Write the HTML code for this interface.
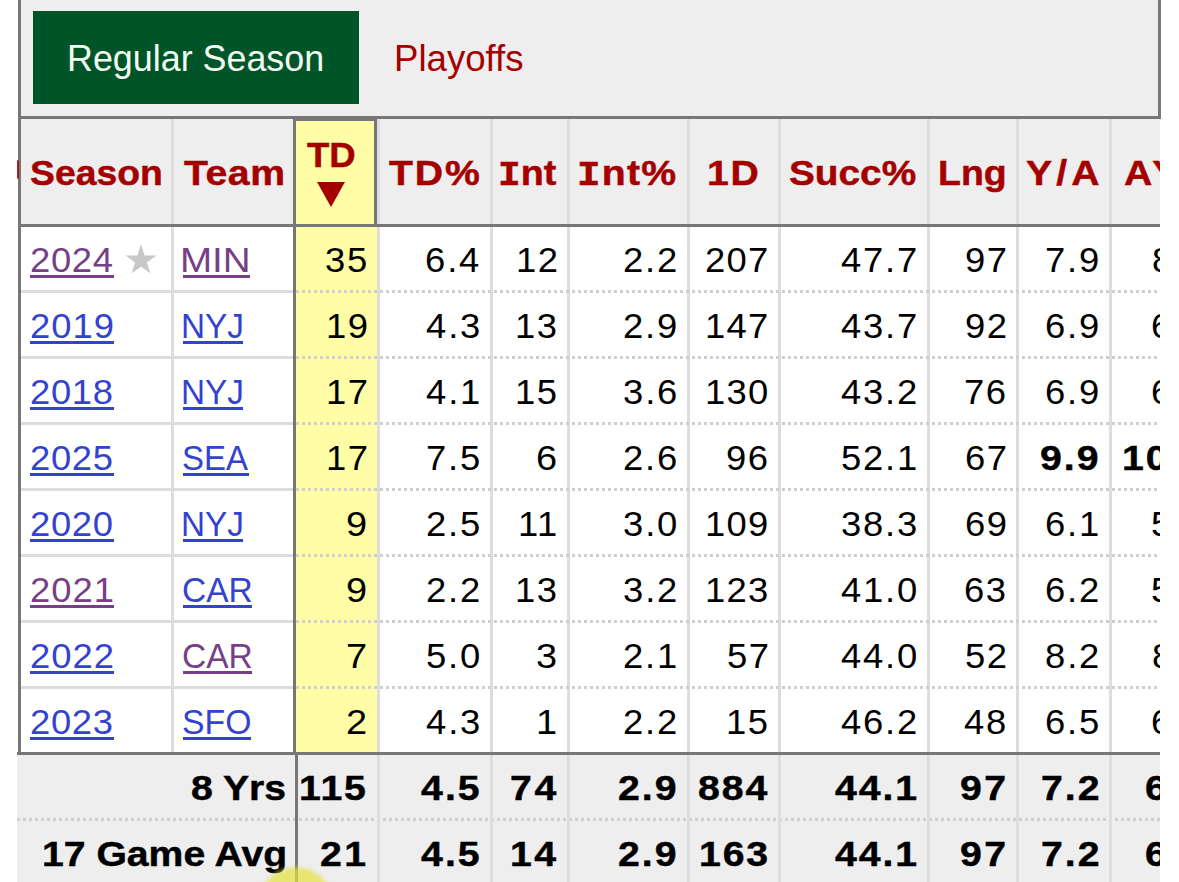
<!DOCTYPE html>
<html><head><meta charset="utf-8"><style>
html,body{margin:0;padding:0;background:#fff;}
body{width:1179px;height:882px;overflow:hidden;position:relative;font-family:"Liberation Sans",sans-serif;}
.a{position:absolute;}
.t{position:absolute;white-space:nowrap;line-height:1;transform-origin:0 0;}
.dot{position:absolute;height:3px;background:repeating-linear-gradient(90deg,#cfcfcf 0 3px,transparent 3px 6px);}
</style></head><body>

<div class="a" style="left:18px;top:-20px;width:1137px;height:136px;background:#edeeed;border:3px solid #777777;border-top:0;"></div>
<div class="a" style="left:33px;top:11px;width:326px;height:93px;background:#005528;"></div>
<div class="a" style="left:0;top:0;width:1160px;height:882px;overflow:hidden;">
<div class="a" style="left:18px;top:119px;width:1300px;height:105px;background:#eeeeee;"></div>
<div class="a" style="left:18px;top:224px;width:1300px;height:3px;background:#777777;"></div>
<div class="a" style="left:17px;top:755px;width:1300px;height:200px;background:#eeeeee;"></div>
<div class="a" style="left:17px;top:752px;width:1300px;height:3px;background:#777777;"></div>
<div class="a" style="left:296px;top:227px;width:81px;height:525px;background:#fffda6;"></div>
<div class="a" style="left:293px;top:119px;width:78px;height:103px;background:#fffda6;border:3px solid #777777;border-bottom:0;border-top-width:2px;"></div>
<div class="a" style="left:18px;top:119px;width:3px;height:633px;background:#777777;"></div>
<div class="a" style="left:171px;top:119px;width:3px;height:105px;background:#dddddd;"></div>
<div class="a" style="left:171px;top:227px;width:3px;height:525px;background:#dddddd;"></div>
<div class="a" style="left:293px;top:119px;width:3px;height:633px;background:#777777;"></div>
<div class="a" style="left:377px;top:119px;width:3px;height:105px;background:#dddddd;"></div>
<div class="a" style="left:377px;top:227px;width:3px;height:525px;background:#dddddd;"></div>
<div class="a" style="left:490px;top:119px;width:3px;height:105px;background:#dddddd;"></div>
<div class="a" style="left:490px;top:227px;width:3px;height:525px;background:#dddddd;"></div>
<div class="a" style="left:567px;top:119px;width:3px;height:105px;background:#dddddd;"></div>
<div class="a" style="left:567px;top:227px;width:3px;height:525px;background:#dddddd;"></div>
<div class="a" style="left:687px;top:119px;width:3px;height:105px;background:#dddddd;"></div>
<div class="a" style="left:687px;top:227px;width:3px;height:525px;background:#dddddd;"></div>
<div class="a" style="left:778px;top:119px;width:3px;height:105px;background:#dddddd;"></div>
<div class="a" style="left:778px;top:227px;width:3px;height:525px;background:#dddddd;"></div>
<div class="a" style="left:927px;top:119px;width:3px;height:105px;background:#dddddd;"></div>
<div class="a" style="left:927px;top:227px;width:3px;height:525px;background:#dddddd;"></div>
<div class="a" style="left:1016px;top:119px;width:3px;height:105px;background:#dddddd;"></div>
<div class="a" style="left:1016px;top:227px;width:3px;height:525px;background:#dddddd;"></div>
<div class="a" style="left:1109px;top:119px;width:3px;height:105px;background:#dddddd;"></div>
<div class="a" style="left:1109px;top:227px;width:3px;height:525px;background:#dddddd;"></div>
<div class="a" style="left:1217px;top:119px;width:3px;height:105px;background:#dddddd;"></div>
<div class="a" style="left:1217px;top:227px;width:3px;height:525px;background:#dddddd;"></div>
<div class="a" style="left:374px;top:119px;width:3px;height:105px;background:#777777;"></div>
<div class="a" style="left:21px;top:290px;width:272px;height:3px;background:#dddddd;"></div>
<div class="dot" style="left:296px;top:290px;width:1000px;"></div>
<div class="a" style="left:21px;top:356px;width:272px;height:3px;background:#dddddd;"></div>
<div class="dot" style="left:296px;top:356px;width:1000px;"></div>
<div class="a" style="left:21px;top:422px;width:272px;height:3px;background:#dddddd;"></div>
<div class="dot" style="left:296px;top:422px;width:1000px;"></div>
<div class="a" style="left:21px;top:488px;width:272px;height:3px;background:#dddddd;"></div>
<div class="dot" style="left:296px;top:488px;width:1000px;"></div>
<div class="a" style="left:21px;top:554px;width:272px;height:3px;background:#dddddd;"></div>
<div class="dot" style="left:296px;top:554px;width:1000px;"></div>
<div class="a" style="left:21px;top:620px;width:272px;height:3px;background:#dddddd;"></div>
<div class="dot" style="left:296px;top:620px;width:1000px;"></div>
<div class="a" style="left:21px;top:686px;width:272px;height:3px;background:#dddddd;"></div>
<div class="dot" style="left:296px;top:686px;width:1000px;"></div>
<div class="dot" style="left:17px;top:818px;width:1300px;"></div>
<div class="a" style="left:295px;top:755px;width:3px;height:200px;background:#777777;"></div>
<div class="a" style="left:377px;top:755px;width:3px;height:200px;background:#dddddd;"></div>
<div class="a" style="left:490px;top:755px;width:3px;height:200px;background:#dddddd;"></div>
<div class="a" style="left:567px;top:755px;width:3px;height:200px;background:#dddddd;"></div>
<div class="a" style="left:687px;top:755px;width:3px;height:200px;background:#dddddd;"></div>
<div class="a" style="left:778px;top:755px;width:3px;height:200px;background:#dddddd;"></div>
<div class="a" style="left:927px;top:755px;width:3px;height:200px;background:#dddddd;"></div>
<div class="a" style="left:1016px;top:755px;width:3px;height:200px;background:#dddddd;"></div>
<div class="a" style="left:1109px;top:755px;width:3px;height:200px;background:#dddddd;"></div>
<div class="a" style="left:1217px;top:755px;width:3px;height:200px;background:#dddddd;"></div>
<div class="a" style="left:317px;top:182px;width:0;height:0;border-left:14px solid transparent;border-right:14px solid transparent;border-top:25px solid #a50000;"></div>
<svg class="a" style="left:0;top:0" width="200" height="300"><polygon points="141.00,244.30 144.64,255.49 156.41,255.49 146.89,262.41 150.52,273.61 141.00,266.69 131.48,273.61 135.11,262.41 125.59,255.49 137.36,255.49" fill="#c8c8c9"/></svg>
<div class="a" style="left:30.0px;top:275px;width:84.0px;height:3px;background:#763f86;"></div>
<div class="a" style="left:183.0px;top:275px;width:67.0px;height:3px;background:#763f86;"></div>
<div class="a" style="left:30.0px;top:341px;width:84.0px;height:3px;background:#3443cf;"></div>
<div class="a" style="left:183.0px;top:341px;width:60.1px;height:3px;background:#3443cf;"></div>
<div class="a" style="left:30.0px;top:407px;width:84.0px;height:3px;background:#3443cf;"></div>
<div class="a" style="left:183.0px;top:407px;width:60.1px;height:3px;background:#3443cf;"></div>
<div class="a" style="left:30.0px;top:473px;width:84.0px;height:3px;background:#3443cf;"></div>
<div class="a" style="left:183.0px;top:473px;width:66.0px;height:3px;background:#3443cf;"></div>
<div class="a" style="left:30.0px;top:539px;width:84.0px;height:3px;background:#3443cf;"></div>
<div class="a" style="left:183.0px;top:539px;width:60.1px;height:3px;background:#3443cf;"></div>
<div class="a" style="left:30.0px;top:605px;width:84.0px;height:3px;background:#763f86;"></div>
<div class="a" style="left:183.0px;top:605px;width:69.0px;height:3px;background:#3443cf;"></div>
<div class="a" style="left:30.0px;top:671px;width:84.0px;height:3px;background:#3443cf;"></div>
<div class="a" style="left:183.0px;top:671px;width:69.0px;height:3px;background:#763f86;"></div>
<div class="a" style="left:30.0px;top:737px;width:84.0px;height:3px;background:#3443cf;"></div>
<div class="a" style="left:183.0px;top:737px;width:67.6px;height:3px;background:#3443cf;"></div>
<div class="t" style="left:66.51px;top:41.00px;font-size:36px;font-weight:400;color:#f2fbf2;transform:scaleX(0.9960);letter-spacing:0.00px;">Regular Season</div>
<div class="t" style="left:394.45px;top:41.00px;font-size:36px;font-weight:400;color:#a50000;transform:scaleX(1.0163);letter-spacing:0.00px;">Playoffs</div>
<div class="t" style="left:29.93px;top:155.00px;font-size:35px;font-weight:700;color:#a50000;transform:scaleX(1.0661);letter-spacing:0.00px;-webkit-text-stroke:0.45px #a50000;">Season</div>
<div class="t" style="left:183.50px;top:155.00px;font-size:35px;font-weight:700;color:#a50000;transform:scaleX(1.1200);letter-spacing:0.46px;-webkit-text-stroke:0.45px #a50000;">Team</div>
<div class="t" style="left:307.00px;top:136.50px;font-size:35px;font-weight:700;color:#a50000;transform:scaleX(1.0444);letter-spacing:0.00px;-webkit-text-stroke:0.45px #a50000;">TD</div>
<div class="t" style="left:389.00px;top:155.00px;font-size:35px;font-weight:700;color:#a50000;transform:scaleX(1.1200);letter-spacing:1.68px;-webkit-text-stroke:0.45px #a50000;">TD%</div>
<div class="t" style="left:498.26px;top:155.00px;font-size:35px;font-weight:700;color:#a50000;transform:scaleX(1.0784);letter-spacing:0.00px;-webkit-text-stroke:0.45px #a50000;"><span style='font-family:Liberation Mono'>I</span>nt</div>
<div class="t" style="left:576.89px;top:155.00px;font-size:35px;font-weight:700;color:#a50000;transform:scaleX(1.1200);letter-spacing:1.12px;-webkit-text-stroke:0.45px #a50000;"><span style='font-family:Liberation Mono'>I</span>nt%</div>
<div class="t" style="left:707.01px;top:155.00px;font-size:35px;font-weight:700;color:#a50000;transform:scaleX(1.1200);letter-spacing:1.41px;-webkit-text-stroke:0.45px #a50000;">1D</div>
<div class="t" style="left:789.29px;top:155.00px;font-size:35px;font-weight:700;color:#a50000;transform:scaleX(1.1080);letter-spacing:0.00px;-webkit-text-stroke:0.45px #a50000;">Succ%</div>
<div class="t" style="left:937.71px;top:155.00px;font-size:35px;font-weight:700;color:#a50000;transform:scaleX(1.0717);letter-spacing:0.00px;-webkit-text-stroke:0.45px #a50000;">Lng</div>
<div class="t" style="left:1026.38px;top:155.00px;font-size:35px;font-weight:700;color:#a50000;transform:scaleX(1.1200);letter-spacing:3.70px;-webkit-text-stroke:0.45px #a50000;">Y/A</div>
<div class="t" style="left:1123.88px;top:155.00px;font-size:35px;font-weight:700;color:#a50000;transform:scaleX(1.1200);letter-spacing:3.06px;-webkit-text-stroke:0.45px #a50000;">AY/A</div>
<div class="t" style="left:29.92px;top:242.00px;font-size:35px;font-weight:400;color:#763f86;transform:scaleX(1.0400);letter-spacing:0.64px;">2024</div>
<div class="t" style="left:180.19px;top:242.00px;font-size:35px;font-weight:400;color:#763f86;transform:scaleX(1.1017);letter-spacing:0.00px;">MIN</div>
<div class="t" style="left:324.84px;top:242.00px;font-size:35px;font-weight:400;color:#000;transform:scaleX(1.0400);letter-spacing:1.58px;">35</div>
<div class="t" style="left:425.31px;top:242.00px;font-size:35px;font-weight:400;color:#000;transform:scaleX(1.0400);letter-spacing:1.81px;">6.4</div>
<div class="t" style="left:516.01px;top:242.00px;font-size:35px;font-weight:400;color:#000;transform:scaleX(1.0400);letter-spacing:1.45px;">12</div>
<div class="t" style="left:623.43px;top:242.00px;font-size:35px;font-weight:400;color:#000;transform:scaleX(1.0400);letter-spacing:1.77px;">2.2</div>
<div class="t" style="left:705.28px;top:242.00px;font-size:35px;font-weight:400;color:#000;transform:scaleX(1.0400);letter-spacing:1.17px;">207</div>
<div class="t" style="left:840.91px;top:242.00px;font-size:35px;font-weight:400;color:#000;transform:scaleX(1.0400);letter-spacing:1.73px;">47.7</div>
<div class="t" style="left:964.97px;top:242.00px;font-size:35px;font-weight:400;color:#000;transform:scaleX(1.0400);letter-spacing:1.49px;">97</div>
<div class="t" style="left:1045.43px;top:242.00px;font-size:35px;font-weight:400;color:#000;transform:scaleX(1.0400);letter-spacing:1.77px;">7.9</div>
<div class="t" style="left:1151.96px;top:242.00px;font-size:35px;font-weight:400;color:#000;transform:scaleX(1.0400);letter-spacing:1.81px;">8.9</div>
<div class="t" style="left:29.92px;top:308.00px;font-size:35px;font-weight:400;color:#3443cf;transform:scaleX(1.0400);letter-spacing:0.97px;">2019</div>
<div class="t" style="left:180.64px;top:308.00px;font-size:35px;font-weight:400;color:#3443cf;transform:scaleX(0.9525);letter-spacing:0.00px;">NYJ</div>
<div class="t" style="left:326.01px;top:308.00px;font-size:35px;font-weight:400;color:#000;transform:scaleX(1.0400);letter-spacing:1.45px;">19</div>
<div class="t" style="left:426.35px;top:308.00px;font-size:35px;font-weight:400;color:#000;transform:scaleX(1.0400);letter-spacing:1.81px;">4.3</div>
<div class="t" style="left:514.93px;top:308.00px;font-size:35px;font-weight:400;color:#000;transform:scaleX(1.0400);letter-spacing:1.49px;">13</div>
<div class="t" style="left:623.43px;top:308.00px;font-size:35px;font-weight:400;color:#000;transform:scaleX(1.0400);letter-spacing:1.77px;">2.9</div>
<div class="t" style="left:705.33px;top:308.00px;font-size:35px;font-weight:400;color:#000;transform:scaleX(1.0400);letter-spacing:1.15px;">147</div>
<div class="t" style="left:840.91px;top:308.00px;font-size:35px;font-weight:400;color:#000;transform:scaleX(1.0400);letter-spacing:1.73px;">43.7</div>
<div class="t" style="left:964.97px;top:308.00px;font-size:35px;font-weight:400;color:#000;transform:scaleX(1.0400);letter-spacing:1.49px;">92</div>
<div class="t" style="left:1045.43px;top:308.00px;font-size:35px;font-weight:400;color:#000;transform:scaleX(1.0400);letter-spacing:1.77px;">6.9</div>
<div class="t" style="left:1150.92px;top:308.00px;font-size:35px;font-weight:400;color:#000;transform:scaleX(1.0400);letter-spacing:1.77px;">6.9</div>
<div class="t" style="left:29.92px;top:374.00px;font-size:35px;font-weight:400;color:#3443cf;transform:scaleX(1.0400);letter-spacing:0.64px;">2018</div>
<div class="t" style="left:180.64px;top:374.00px;font-size:35px;font-weight:400;color:#3443cf;transform:scaleX(0.9525);letter-spacing:0.00px;">NYJ</div>
<div class="t" style="left:326.01px;top:374.00px;font-size:35px;font-weight:400;color:#000;transform:scaleX(1.0400);letter-spacing:1.45px;">17</div>
<div class="t" style="left:426.35px;top:374.00px;font-size:35px;font-weight:400;color:#000;transform:scaleX(1.0400);letter-spacing:1.81px;">4.1</div>
<div class="t" style="left:514.93px;top:374.00px;font-size:35px;font-weight:400;color:#000;transform:scaleX(1.0400);letter-spacing:1.49px;">15</div>
<div class="t" style="left:623.35px;top:374.00px;font-size:35px;font-weight:400;color:#000;transform:scaleX(1.0400);letter-spacing:1.81px;">3.6</div>
<div class="t" style="left:705.33px;top:374.00px;font-size:35px;font-weight:400;color:#000;transform:scaleX(1.0400);letter-spacing:1.15px;">130</div>
<div class="t" style="left:840.91px;top:374.00px;font-size:35px;font-weight:400;color:#000;transform:scaleX(1.0400);letter-spacing:1.73px;">43.2</div>
<div class="t" style="left:963.89px;top:374.00px;font-size:35px;font-weight:400;color:#000;transform:scaleX(1.0400);letter-spacing:1.53px;">76</div>
<div class="t" style="left:1045.43px;top:374.00px;font-size:35px;font-weight:400;color:#000;transform:scaleX(1.0400);letter-spacing:1.77px;">6.9</div>
<div class="t" style="left:1150.92px;top:374.00px;font-size:35px;font-weight:400;color:#000;transform:scaleX(1.0400);letter-spacing:1.77px;">6.6</div>
<div class="t" style="left:29.92px;top:440.00px;font-size:35px;font-weight:400;color:#3443cf;transform:scaleX(1.0400);letter-spacing:0.64px;">2025</div>
<div class="t" style="left:181.62px;top:440.00px;font-size:35px;font-weight:400;color:#3443cf;transform:scaleX(0.9412);letter-spacing:0.00px;">SEA</div>
<div class="t" style="left:326.01px;top:440.00px;font-size:35px;font-weight:400;color:#000;transform:scaleX(1.0400);letter-spacing:1.45px;">17</div>
<div class="t" style="left:426.43px;top:440.00px;font-size:35px;font-weight:400;color:#000;transform:scaleX(1.0400);letter-spacing:1.77px;">7.5</div>
<div class="t" style="left:536.48px;top:440.00px;font-size:35px;font-weight:400;color:#000;transform:scaleX(1.0843);letter-spacing:0.00px;">6</div>
<div class="t" style="left:623.43px;top:440.00px;font-size:35px;font-weight:400;color:#000;transform:scaleX(1.0400);letter-spacing:1.77px;">2.6</div>
<div class="t" style="left:725.89px;top:440.00px;font-size:35px;font-weight:400;color:#000;transform:scaleX(1.0400);letter-spacing:1.53px;">96</div>
<div class="t" style="left:840.99px;top:440.00px;font-size:35px;font-weight:400;color:#000;transform:scaleX(1.0400);letter-spacing:1.71px;">52.1</div>
<div class="t" style="left:964.97px;top:440.00px;font-size:35px;font-weight:400;color:#000;transform:scaleX(1.0400);letter-spacing:1.49px;">67</div>
<div class="t" style="left:1040.16px;top:440.00px;font-size:35px;font-weight:700;color:#000;transform:scaleX(1.1200);letter-spacing:1.82px;-webkit-text-stroke:0.45px #000;">9.9</div>
<div class="t" style="left:1121.76px;top:440.00px;font-size:35px;font-weight:700;color:#000;transform:scaleX(1.1200);letter-spacing:1.68px;-webkit-text-stroke:0.45px #000;">10.1</div>
<div class="t" style="left:29.92px;top:506.00px;font-size:35px;font-weight:400;color:#3443cf;transform:scaleX(1.0400);letter-spacing:0.64px;">2020</div>
<div class="t" style="left:180.64px;top:506.00px;font-size:35px;font-weight:400;color:#3443cf;transform:scaleX(0.9525);letter-spacing:0.00px;">NYJ</div>
<div class="t" style="left:346.48px;top:506.00px;font-size:35px;font-weight:400;color:#000;transform:scaleX(1.0843);letter-spacing:0.00px;">9</div>
<div class="t" style="left:426.43px;top:506.00px;font-size:35px;font-weight:400;color:#000;transform:scaleX(1.0400);letter-spacing:1.77px;">2.5</div>
<div class="t" style="left:518.18px;top:506.00px;font-size:35px;font-weight:400;color:#000;transform:scaleX(1.0400);letter-spacing:1.36px;">11</div>
<div class="t" style="left:623.35px;top:506.00px;font-size:35px;font-weight:400;color:#000;transform:scaleX(1.0400);letter-spacing:1.81px;">3.0</div>
<div class="t" style="left:705.33px;top:506.00px;font-size:35px;font-weight:400;color:#000;transform:scaleX(1.0400);letter-spacing:1.15px;">109</div>
<div class="t" style="left:840.91px;top:506.00px;font-size:35px;font-weight:400;color:#000;transform:scaleX(1.0400);letter-spacing:1.73px;">38.3</div>
<div class="t" style="left:964.97px;top:506.00px;font-size:35px;font-weight:400;color:#000;transform:scaleX(1.0400);letter-spacing:1.49px;">69</div>
<div class="t" style="left:1045.43px;top:506.00px;font-size:35px;font-weight:400;color:#000;transform:scaleX(1.0400);letter-spacing:1.77px;">6.1</div>
<div class="t" style="left:1150.92px;top:506.00px;font-size:35px;font-weight:400;color:#000;transform:scaleX(1.0400);letter-spacing:1.77px;">5.1</div>
<div class="t" style="left:29.92px;top:572.00px;font-size:35px;font-weight:400;color:#763f86;transform:scaleX(1.0400);letter-spacing:0.97px;">2021</div>
<div class="t" style="left:181.59px;top:572.00px;font-size:35px;font-weight:400;color:#3443cf;transform:scaleX(0.9571);letter-spacing:0.00px;">CAR</div>
<div class="t" style="left:346.48px;top:572.00px;font-size:35px;font-weight:400;color:#000;transform:scaleX(1.0843);letter-spacing:0.00px;">9</div>
<div class="t" style="left:426.43px;top:572.00px;font-size:35px;font-weight:400;color:#000;transform:scaleX(1.0400);letter-spacing:1.77px;">2.2</div>
<div class="t" style="left:514.93px;top:572.00px;font-size:35px;font-weight:400;color:#000;transform:scaleX(1.0400);letter-spacing:1.49px;">13</div>
<div class="t" style="left:623.35px;top:572.00px;font-size:35px;font-weight:400;color:#000;transform:scaleX(1.0400);letter-spacing:1.81px;">3.2</div>
<div class="t" style="left:705.33px;top:572.00px;font-size:35px;font-weight:400;color:#000;transform:scaleX(1.0400);letter-spacing:1.15px;">123</div>
<div class="t" style="left:840.91px;top:572.00px;font-size:35px;font-weight:400;color:#000;transform:scaleX(1.0400);letter-spacing:1.73px;">41.0</div>
<div class="t" style="left:963.89px;top:572.00px;font-size:35px;font-weight:400;color:#000;transform:scaleX(1.0400);letter-spacing:1.53px;">63</div>
<div class="t" style="left:1045.43px;top:572.00px;font-size:35px;font-weight:400;color:#000;transform:scaleX(1.0400);letter-spacing:1.77px;">6.2</div>
<div class="t" style="left:1150.92px;top:572.00px;font-size:35px;font-weight:400;color:#000;transform:scaleX(1.0400);letter-spacing:1.77px;">5.6</div>
<div class="t" style="left:29.92px;top:638.00px;font-size:35px;font-weight:400;color:#3443cf;transform:scaleX(1.0400);letter-spacing:0.97px;">2022</div>
<div class="t" style="left:181.59px;top:638.00px;font-size:35px;font-weight:400;color:#763f86;transform:scaleX(0.9571);letter-spacing:0.00px;">CAR</div>
<div class="t" style="left:346.48px;top:638.00px;font-size:35px;font-weight:400;color:#000;transform:scaleX(1.0843);letter-spacing:0.00px;">7</div>
<div class="t" style="left:426.43px;top:638.00px;font-size:35px;font-weight:400;color:#000;transform:scaleX(1.0400);letter-spacing:1.77px;">5.0</div>
<div class="t" style="left:536.48px;top:638.00px;font-size:35px;font-weight:400;color:#000;transform:scaleX(1.0843);letter-spacing:0.00px;">3</div>
<div class="t" style="left:623.43px;top:638.00px;font-size:35px;font-weight:400;color:#000;transform:scaleX(1.0400);letter-spacing:1.77px;">2.1</div>
<div class="t" style="left:726.97px;top:638.00px;font-size:35px;font-weight:400;color:#000;transform:scaleX(1.0400);letter-spacing:1.49px;">57</div>
<div class="t" style="left:840.91px;top:638.00px;font-size:35px;font-weight:400;color:#000;transform:scaleX(1.0400);letter-spacing:1.73px;">44.0</div>
<div class="t" style="left:964.97px;top:638.00px;font-size:35px;font-weight:400;color:#000;transform:scaleX(1.0400);letter-spacing:1.49px;">52</div>
<div class="t" style="left:1045.35px;top:638.00px;font-size:35px;font-weight:400;color:#000;transform:scaleX(1.0400);letter-spacing:1.81px;">8.2</div>
<div class="t" style="left:1151.96px;top:638.00px;font-size:35px;font-weight:400;color:#000;transform:scaleX(1.0400);letter-spacing:1.81px;">8.7</div>
<div class="t" style="left:29.92px;top:704.00px;font-size:35px;font-weight:400;color:#3443cf;transform:scaleX(1.0400);letter-spacing:0.64px;">2023</div>
<div class="t" style="left:181.57px;top:704.00px;font-size:35px;font-weight:400;color:#3443cf;transform:scaleX(0.9647);letter-spacing:0.00px;">SFO</div>
<div class="t" style="left:346.48px;top:704.00px;font-size:35px;font-weight:400;color:#000;transform:scaleX(1.0843);letter-spacing:0.00px;">2</div>
<div class="t" style="left:426.35px;top:704.00px;font-size:35px;font-weight:400;color:#000;transform:scaleX(1.0400);letter-spacing:1.81px;">4.3</div>
<div class="t" style="left:536.48px;top:704.00px;font-size:35px;font-weight:400;color:#000;transform:scaleX(1.0843);letter-spacing:0.00px;">1</div>
<div class="t" style="left:623.43px;top:704.00px;font-size:35px;font-weight:400;color:#000;transform:scaleX(1.0400);letter-spacing:1.77px;">2.2</div>
<div class="t" style="left:725.93px;top:704.00px;font-size:35px;font-weight:400;color:#000;transform:scaleX(1.0400);letter-spacing:1.49px;">15</div>
<div class="t" style="left:840.91px;top:704.00px;font-size:35px;font-weight:400;color:#000;transform:scaleX(1.0400);letter-spacing:1.73px;">46.2</div>
<div class="t" style="left:963.84px;top:704.00px;font-size:35px;font-weight:400;color:#000;transform:scaleX(1.0400);letter-spacing:1.58px;">48</div>
<div class="t" style="left:1045.43px;top:704.00px;font-size:35px;font-weight:400;color:#000;transform:scaleX(1.0400);letter-spacing:1.77px;">6.5</div>
<div class="t" style="left:1150.92px;top:704.00px;font-size:35px;font-weight:400;color:#000;transform:scaleX(1.0400);letter-spacing:1.81px;">6.4</div>
<div class="t" style="left:190.98px;top:770.00px;font-size:35px;font-weight:700;color:#000;transform:scaleX(1.1193);letter-spacing:0.00px;-webkit-text-stroke:0.45px #000;">8 Yrs</div>
<div class="t" style="left:299.11px;top:770.00px;font-size:35px;font-weight:700;color:#000;transform:scaleX(1.1200);letter-spacing:1.64px;-webkit-text-stroke:0.45px #000;">115</div>
<div class="t" style="left:421.07px;top:770.00px;font-size:35px;font-weight:700;color:#000;transform:scaleX(1.1200);letter-spacing:1.86px;-webkit-text-stroke:0.45px #000;">4.5</div>
<div class="t" style="left:509.74px;top:770.00px;font-size:35px;font-weight:700;color:#000;transform:scaleX(1.1200);letter-spacing:2.31px;-webkit-text-stroke:0.45px #000;">74</div>
<div class="t" style="left:618.16px;top:770.00px;font-size:35px;font-weight:700;color:#000;transform:scaleX(1.1200);letter-spacing:1.82px;-webkit-text-stroke:0.45px #000;">2.9</div>
<div class="t" style="left:698.16px;top:770.00px;font-size:35px;font-weight:700;color:#000;transform:scaleX(1.1200);letter-spacing:1.73px;-webkit-text-stroke:0.45px #000;">884</div>
<div class="t" style="left:835.14px;top:770.00px;font-size:35px;font-weight:700;color:#000;transform:scaleX(1.1200);letter-spacing:1.73px;-webkit-text-stroke:0.45px #000;">44.1</div>
<div class="t" style="left:959.92px;top:770.00px;font-size:35px;font-weight:700;color:#000;transform:scaleX(1.1200);letter-spacing:2.25px;-webkit-text-stroke:0.45px #000;">97</div>
<div class="t" style="left:1041.36px;top:770.00px;font-size:35px;font-weight:700;color:#000;transform:scaleX(1.1200);letter-spacing:1.78px;-webkit-text-stroke:0.45px #000;">7.2</div>
<div class="t" style="left:1144.88px;top:770.00px;font-size:35px;font-weight:700;color:#000;transform:scaleX(1.1200);letter-spacing:1.82px;-webkit-text-stroke:0.45px #000;">6.9</div>
<div class="t" style="left:42.36px;top:836.00px;font-size:35px;font-weight:700;color:#000;transform:scaleX(1.1181);letter-spacing:0.00px;-webkit-text-stroke:0.45px #000;">17 Game Avg</div>
<div class="t" style="left:320.42px;top:836.00px;font-size:35px;font-weight:700;color:#000;transform:scaleX(1.1200);letter-spacing:2.25px;-webkit-text-stroke:0.45px #000;">21</div>
<div class="t" style="left:421.07px;top:836.00px;font-size:35px;font-weight:700;color:#000;transform:scaleX(1.1200);letter-spacing:1.86px;-webkit-text-stroke:0.45px #000;">4.5</div>
<div class="t" style="left:509.80px;top:836.00px;font-size:35px;font-weight:700;color:#000;transform:scaleX(1.1200);letter-spacing:2.25px;-webkit-text-stroke:0.45px #000;">14</div>
<div class="t" style="left:618.16px;top:836.00px;font-size:35px;font-weight:700;color:#000;transform:scaleX(1.1200);letter-spacing:1.82px;-webkit-text-stroke:0.45px #000;">2.9</div>
<div class="t" style="left:699.42px;top:836.00px;font-size:35px;font-weight:700;color:#000;transform:scaleX(1.1200);letter-spacing:1.67px;-webkit-text-stroke:0.45px #000;">163</div>
<div class="t" style="left:835.14px;top:836.00px;font-size:35px;font-weight:700;color:#000;transform:scaleX(1.1200);letter-spacing:1.73px;-webkit-text-stroke:0.45px #000;">44.1</div>
<div class="t" style="left:959.92px;top:836.00px;font-size:35px;font-weight:700;color:#000;transform:scaleX(1.1200);letter-spacing:2.25px;-webkit-text-stroke:0.45px #000;">97</div>
<div class="t" style="left:1041.36px;top:836.00px;font-size:35px;font-weight:700;color:#000;transform:scaleX(1.1200);letter-spacing:1.78px;-webkit-text-stroke:0.45px #000;">7.2</div>
<div class="t" style="left:1144.88px;top:836.00px;font-size:35px;font-weight:700;color:#000;transform:scaleX(1.1200);letter-spacing:1.82px;-webkit-text-stroke:0.45px #000;">6.9</div>
</div>
<div class="a" style="left:16.5px;top:160px;width:2px;height:19px;background:#a50000;border-radius:0 2px 2px 0;opacity:0.85"></div>
<div class="a" style="left:252px;top:861px;width:88px;height:88px;border-radius:50%;background:radial-gradient(circle at center, rgba(230,225,60,0.72) 0%, rgba(230,225,60,0.7) 34px, rgba(230,225,60,0) 41px);"></div>
</body></html>
